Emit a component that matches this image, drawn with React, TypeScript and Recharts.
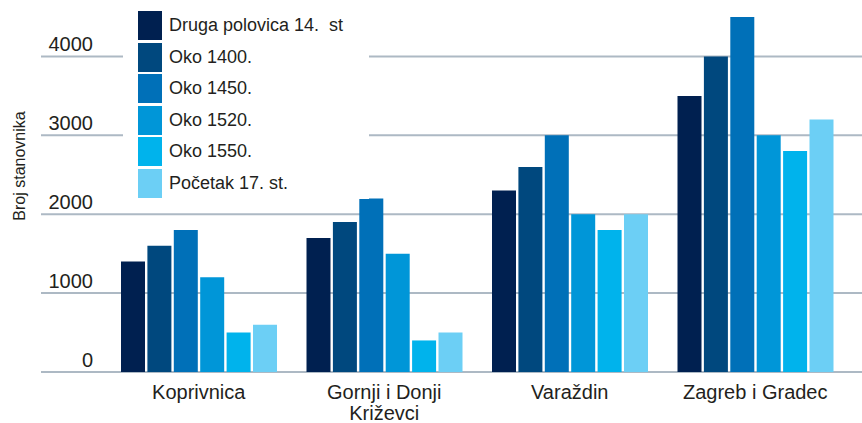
import React from 'react';
import { BarChart, Bar, XAxis, YAxis, CartesianGrid, Legend, Label } from 'recharts';

const categories = ['Koprivnica', 'Gornji i Donji\nKriževci', 'Varaždin', 'Zagreb i Gradec'];
const seriesNames = ['Druga polovica 14.  st', 'Oko 1400.', 'Oko 1450.', 'Oko 1520.', 'Oko 1550.', 'Početak 17. st.'];
const druga14 = [1400, 1700, 2300, 3500];
const oko1400 = [1600, 1900, 2600, 4000];
const oko1450 = [1800, 2200, 3000, 4500];
const oko1520 = [1200, 1500, 2000, 3000];
const oko1550 = [500, 400, 1800, 2800];
const pocetak17 = [600, 500, 2000, 3200];
const yTicks = [0, 1000, 2000, 3000, 4000];
const yLabel = 'Broj stanovnika';

const seriesValues = [druga14, oko1400, oko1450, oko1520, oko1550, pocetak17];
const colors = ['#002050', '#00487e', '#0070b8', '#0096d8', '#00b3ec', '#6ccff5'];
const keys = ['s0', 's1', 's2', 's3', 's4', 's5'];

const data = categories.map((c, i) => {
  const row: any = { name: c };
  seriesValues.forEach((arr, j) => {
    row[keys[j]] = arr[i];
  });
  return row;
});

const FONT = '"Liberation Sans", Arial, sans-serif';
const TEXT = '#231f20';

const YTick = (props: any) => {
  const { y, payload } = props;
  return (
    <text x={93} y={y - 5} textAnchor="end" fontSize={20} fontFamily={FONT} fill={TEXT}>
      {payload.value}
    </text>
  );
};

const XTick = (props: any) => {
  const { x, y, payload } = props;
  const lines = String(payload.value).split('\n');
  return (
    <text x={x} y={y} textAnchor="middle" fontSize={20} fontFamily={FONT} fill={TEXT}>
      {lines.map((l, i) => (
        <tspan key={i} x={x} y={y + 27 + i * 20.5}>
          {l}
        </tspan>
      ))}
    </text>
  );
};

const YLabelContent = () => (
  <text
    x={25}
    y={166}
    transform="rotate(-90 25 166)"
    textAnchor="middle"
    fontSize={16}
    fontFamily={FONT}
    fill={TEXT}
  >
    {yLabel}
  </text>
);

const LegendContent = () => (
  <div
    style={{
      background: '#fff',
      width: 231,
      height: 188,
      paddingLeft: 15,
      paddingTop: 0,
      fontFamily: FONT,
      fontSize: 18,
      color: TEXT,
    }}
  >
    {seriesNames.map((n, i) => (
      <div
        key={n}
        style={{ display: 'flex', alignItems: 'center', height: 29, marginBottom: 2.6 }}
      >
        <div style={{ width: 24, height: 29, background: colors[i], flex: 'none' }} />
        <span style={{ marginLeft: 7, whiteSpace: 'pre' }}>{n}</span>
      </div>
    ))}
  </div>
);

export default function App() {
  return (
    <div style={{ position: 'absolute', left: 0, top: 0, width: 862, height: 423, background: '#fff' }}>
      <BarChart
        width={862}
        height={423}
        data={data}
        margin={{ top: 17, right: 0, bottom: 0, left: 40 }}
        barSize={24}
        barGap={2.4}
      >
        <CartesianGrid vertical={false} stroke="#adb9c4" strokeWidth={2} horizontalValues={yTicks} />
        <XAxis
          dataKey="name"
          axisLine={false}
          tickLine={false}
          tickSize={0}
          tickMargin={0}
          padding={{ left: 65, right: 14 }}
          tick={<XTick />}
          interval={0}
          height={51}
        />
        <YAxis
          width={1}
          domain={[0, 4500]}
          ticks={yTicks}
          axisLine={false}
          tickLine={false}
          tick={<YTick />}
          interval={0}
        >
          <Label content={<YLabelContent />} />
        </YAxis>
        <Legend
          layout="vertical"
          align="center"
          verticalAlign="middle"
          wrapperStyle={{ left: 123, top: 11, width: 246 }}
          content={<LegendContent />}
        />
        {keys.map((k, i) => (
          <Bar key={k} dataKey={k} name={seriesNames[i]} fill={colors[i]} isAnimationActive={false} />
        ))}
      </BarChart>
    </div>
  );
}
